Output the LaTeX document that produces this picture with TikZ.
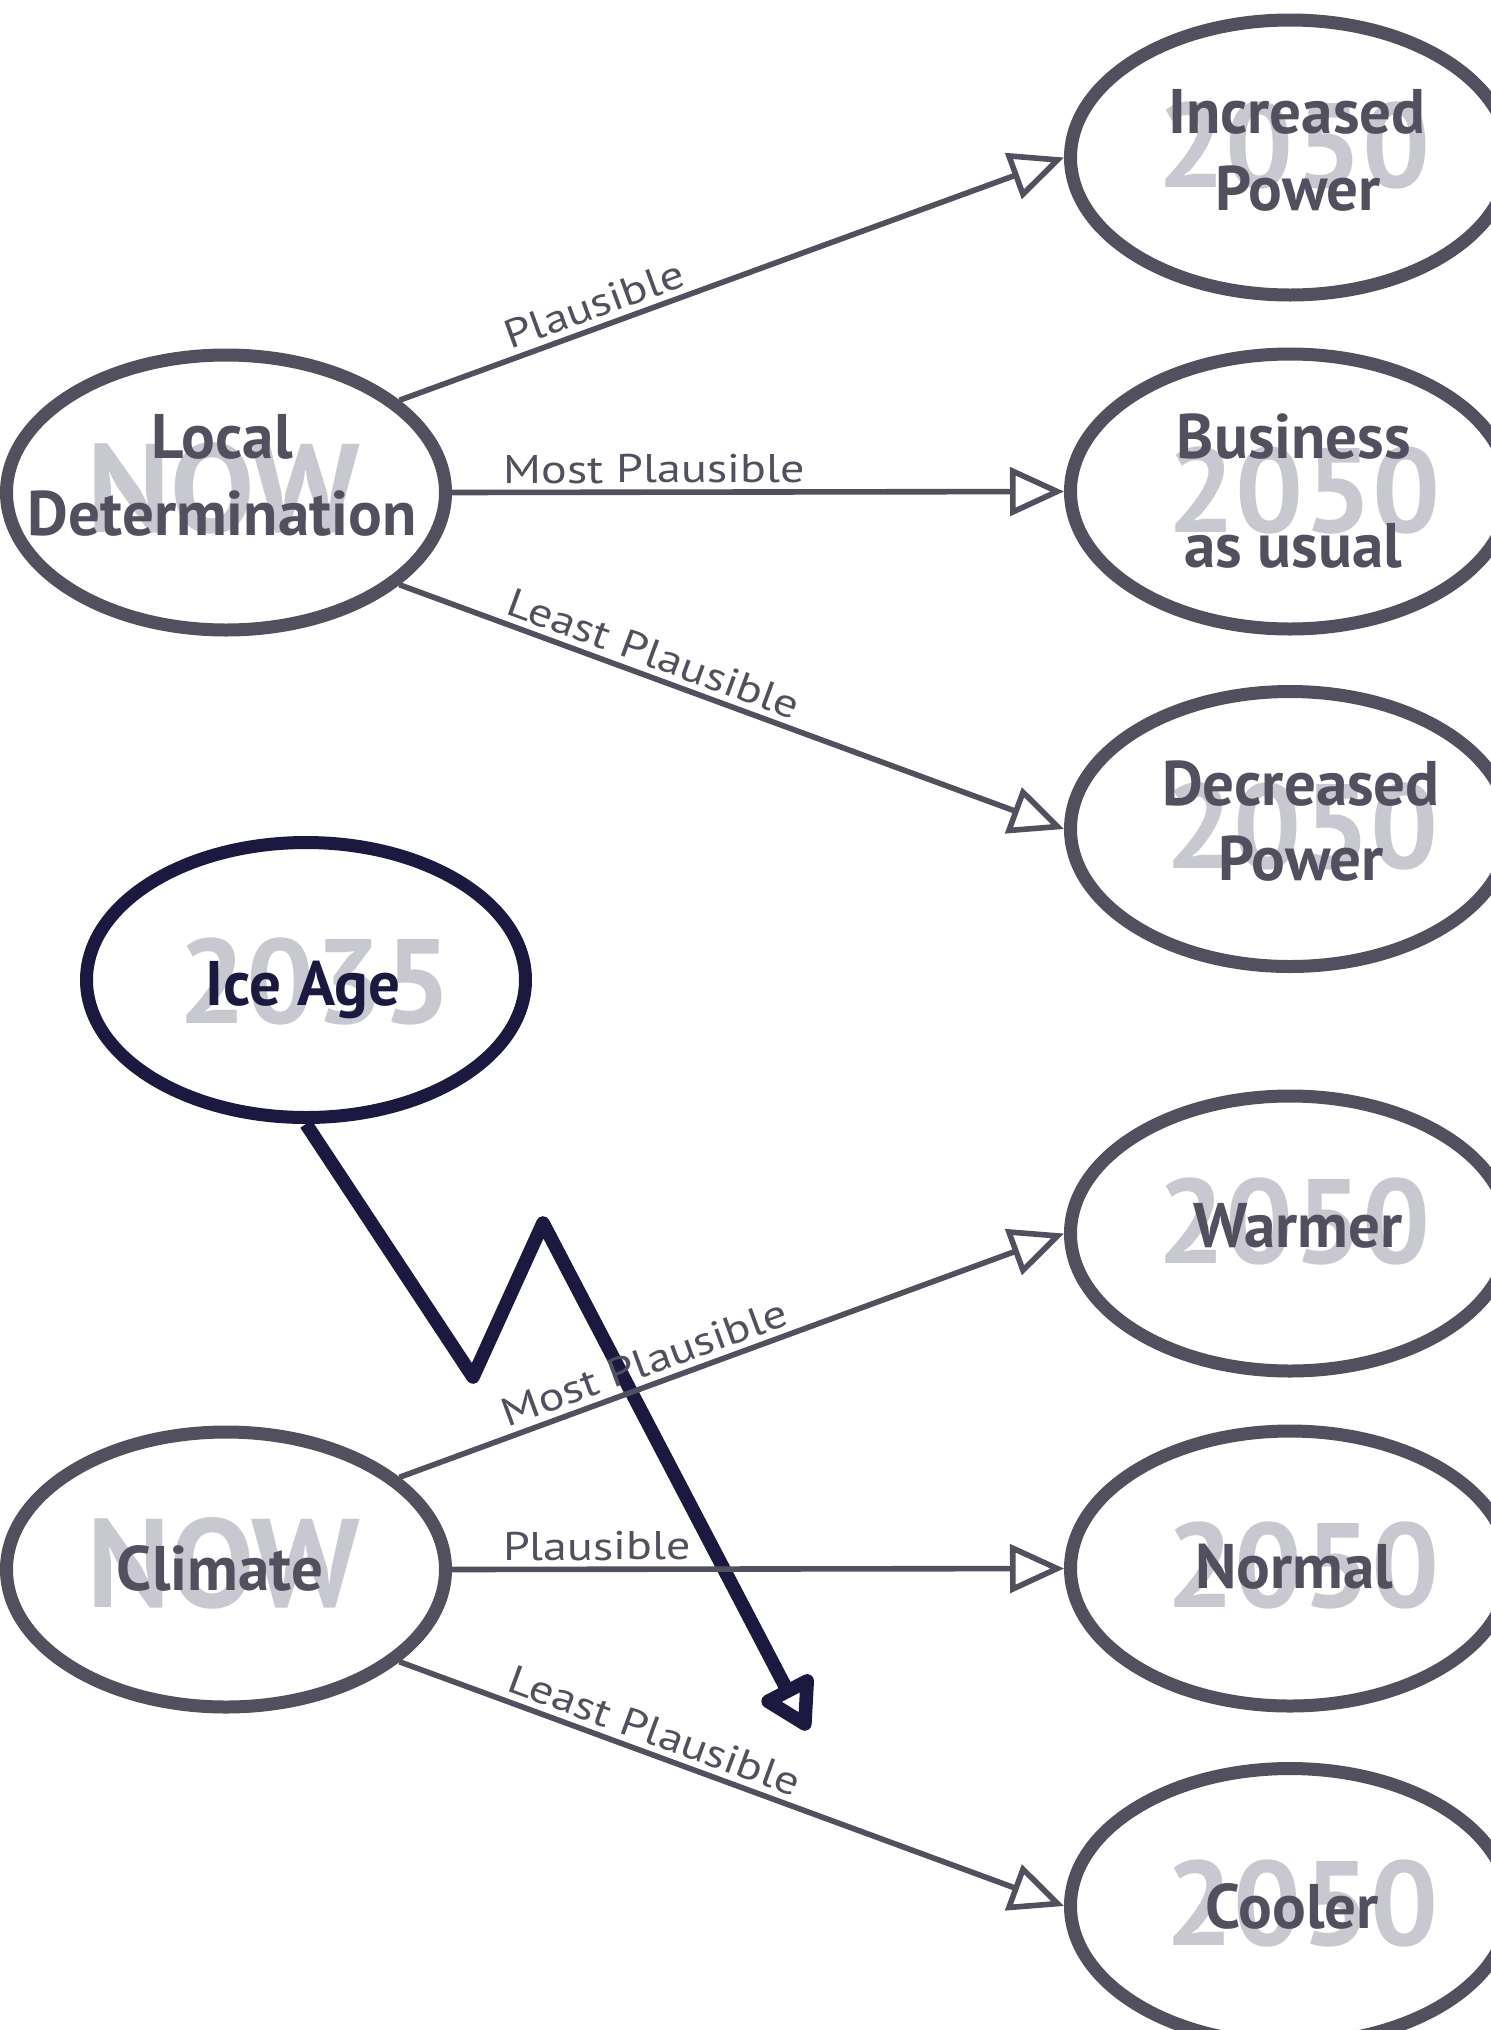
\documentclass[tikz,border=0pt]{standalone}
\usepackage{fontspec}
\setmainfont{PT Sans}
\newfontfamily\lblfont[FakeStretch=1.2]{PT Sans}
\usetikzlibrary{arrows.meta,shapes.geometric}
\definecolor{ink}{RGB}{82,79,95}
\definecolor{navy}{RGB}{27,25,64}
\definecolor{wmgray}{RGB}{200,200,208}
\begin{document}
\begin{tikzpicture}[x=0.5pt,y=-0.5pt,
  bubble/.style={ellipse, draw=ink, fill=white, line width=6.5pt,
    minimum width=219.5pt, minimum height=137.5pt, inner sep=0pt},
  wmtxt/.style={font=\bfseries\fontsize{60pt}{60pt}\selectfont, text=wmgray, anchor=base, inner sep=0pt},
  nowtxt/.style={font=\bfseries\fontsize{63pt}{63pt}\selectfont, text=wmgray, anchor=base, inner sep=0pt},
  txt/.style={font=\bfseries\fontsize{31.5pt}{31.5pt}\selectfont, text=ink, anchor=base, inner sep=0pt},
  lbl/.style={font=\lblfont\fontsize{20pt}{24pt}\selectfont, text=ink, sloped, above, inner sep=3pt},
  conn/.style={draw=ink, line width=2.8pt, -{Triangle[length=27pt,width=24pt,fill=white]}},
  icearrow/.style={draw=navy, line width=6.8pt, line join=round, -{Triangle[round,length=29pt,width=32pt,fill=white]}}
]
\useasboundingbox (0,0) rectangle (1490,2030);

% ellipses
\node[bubble] (inc) at (1290,157.5) {};
\node[bubble] (bau) at (1290,491.5) {};
\node[bubble] (dec) at (1290,829) {};
\node[bubble] (warm) at (1290,1233.5) {};
\node[bubble] (norm) at (1290,1568.5) {};
\node[bubble] (cool) at (1290,1906) {};
\node[bubble] (ld) at (226,492.5) {};
\node[bubble] (clim) at (226,1569.5) {};
\node[bubble, draw=navy] (ice) at (306,980) {};

% watermarks
\node[wmtxt] (incwm) at (1294,187) {2050};
\node[wmtxt] (bauwm) at (1304,532) {2050};
\node[wmtxt] (decwm) at (1302,868) {2050};
\node[wmtxt] (warmwm) at (1294,1263) {2050};
\node[wmtxt] (normwm) at (1303,1607) {2050};
\node[wmtxt] (coolwm) at (1302,1945) {2050};
\node[wmtxt] (icewm) at (315,1023) {2035};
\node[nowtxt] (ldwm) at (224,532) {NOW};
\node[nowtxt] (climwm) at (224,1607) {NOW};

% texts
\node[txt] (lda) at (222,458) {Local};
\node[txt] (ldb) at (222,535) {Determination};
\node[txt] (inca) at (1297,133) {Increased};
\node[txt] (incb) at (1298,210) {Power};
\node[txt] (baua) at (1294,458) {Business};
\node[txt] (baub) at (1293,567) {as usual};
\node[txt] (deca) at (1301,805) {Decreased};
\node[txt] (decb) at (1301,880) {Power};
\node[txt, text=navy] (icet) at (303,1005) {Ice Age};
\node[txt] (warmt) at (1298,1247) {Warmer};
\node[txt] (normt) at (1294,1588) {Normal};
\node[txt] (coolt) at (1292,1928) {Cooler};
\node[txt] (climt) at (220,1590) {Climate};

% ice age zigzag arrow
\coordinate (z1) at (473,1377);
\coordinate (z2) at (543,1223);
\coordinate (zt) at (808,1730);
\draw[icearrow] (ice.south) -- (z1) -- (z2) -- (zt);

% connectors
\draw[conn] (ld.28) -- node[lbl,pos=0.305] (l1) {Plausible} (inc.west);
\draw[conn] (ld.east) -- node[lbl,pos=0.33] (l2) {Most Plausible} (bau.west);
\draw[conn] (ld.-28) -- node[lbl,pos=0.371] (l3) {Least Plausible} (dec.west);
\draw[conn] (clim.28) -- node[lbl,pos=0.38] (l4) {Most Plausible} (warm.west);
\draw[conn] (clim.east) -- node[lbl,pos=0.237] (l5) {Plausible} (norm.west);
\draw[conn] (clim.-28) -- node[lbl,pos=0.372] (l6) {Least Plausible} (cool.west);
\end{tikzpicture}
\end{document}
